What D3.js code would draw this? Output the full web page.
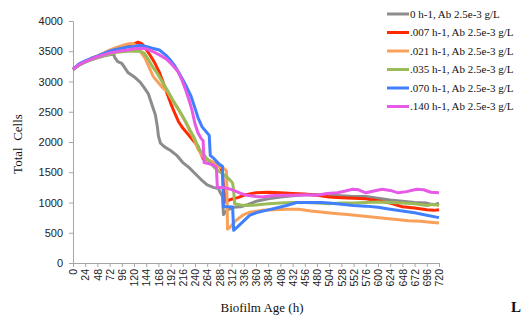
<!DOCTYPE html>
<html>
<head>
<meta charset="utf-8">
<script src="https://cdn.jsdelivr.net/npm/d3@7"></script>
<style>
body { margin: 0; background: #fff; }
.axis path, .axis line { stroke: #a6a6a6; }
.axis text { font-family: "Liberation Sans", Arial, sans-serif; fill: #222; }
.serif { font-family: "Liberation Serif", "Times New Roman", serif; fill: #111; }
</style>
</head>
<body>
<svg width="529" height="320"></svg>
<script>
// series labels / colours
var seriesNames = ["0 h-1, Ab 2.5e-3 g/L", ".007 h-1, Ab 2.5e-3 g/L", ".021 h-1, Ab 2.5e-3 g/L",
                   ".035 h-1, Ab 2.5e-3 g/L", ".070 h-1, Ab 2.5e-3 g/L", ".140 h-1, Ab 2.5e-3 g/L"];
var seriesColors = ["#8c8c8c", "#ff2a00", "#f9a05a", "#9bbb59", "#4080ff", "#e65ae6"];

var xTicks = d3.range(0, 721, 24);
var yTicks = d3.range(0, 4001, 500);

// [hour, total cells]
var dil0 = [[0,3200],[12,3270],[24,3320],[36,3360],[48,3390],[60,3420],[72,3440],[80,3450],[82,3400],[88,3330],[96,3300],[108,3150],[120,3080],[132,2990],[140,2900],[148,2800],[156,2600],[162,2450],[166,2250],[168,2100],[172,1980],[180,1920],[192,1860],[204,1780],[216,1660],[228,1580],[240,1480],[252,1380],[264,1290],[276,1250],[286,1230],[290,1160],[294,1100],[296,800],[304,880],[316,920],[330,930],[345,970],[360,1020],[384,1060],[408,1090],[432,1110],[456,1130],[480,1130],[504,1120],[528,1110],[552,1100],[576,1100],[600,1070],[624,1040],[648,1020],[672,1000],[696,990],[710,960],[720,990]];
var dil007 = [[0,3200],[12,3280],[24,3330],[36,3380],[48,3420],[60,3460],[72,3500],[84,3540],[96,3580],[108,3610],[120,3620],[128,3650],[136,3620],[144,3530],[152,3430],[160,3320],[170,3150],[178,2970],[186,2780],[194,2600],[200,2480],[208,2330],[216,2230],[226,2130],[236,2030],[246,1930],[256,1720],[266,1700],[276,1660],[288,1620],[294,1500],[296,1250],[300,1010],[310,1050],[324,1080],[340,1130],[360,1160],[384,1170],[408,1160],[432,1150],[456,1140],[480,1120],[504,1090],[528,1080],[552,1070],[576,1060],[600,1030],[624,990],[648,930],[672,910],[696,880],[710,870],[720,880]];
var dil021 = [[0,3200],[12,3280],[24,3330],[36,3380],[48,3420],[60,3470],[72,3520],[84,3560],[96,3590],[108,3620],[118,3630],[126,3580],[134,3480],[142,3380],[150,3230],[158,3080],[166,3000],[176,2900],[186,2830],[196,2680],[206,2560],[214,2440],[222,2320],[230,2180],[238,2050],[246,1880],[256,1750],[266,1700],[276,1660],[286,1590],[296,1570],[302,1520],[304,560],[310,600],[320,700],[334,790],[348,840],[372,870],[396,880],[420,890],[444,890],[468,860],[492,840],[516,820],[540,800],[564,780],[588,760],[612,740],[636,720],[660,700],[684,690],[708,670],[720,660]];
var dil035 = [[0,3200],[12,3270],[24,3320],[36,3360],[48,3400],[60,3430],[72,3450],[84,3480],[96,3490],[108,3500],[120,3500],[132,3500],[140,3470],[148,3370],[156,3250],[166,3130],[176,2990],[186,2850],[196,2700],[206,2560],[214,2450],[222,2330],[230,2200],[238,2080],[248,1880],[258,1780],[268,1680],[278,1580],[288,1510],[298,1450],[308,1380],[314,1320],[316,1200],[318,980],[330,960],[345,950],[360,960],[384,980],[408,990],[432,1000],[456,1000],[480,990],[504,980],[528,990],[552,990],[576,1000],[600,1010],[624,1000],[648,990],[672,980],[696,950],[708,970],[720,950]];
var dil070 = [[0,3200],[12,3290],[24,3340],[36,3380],[48,3420],[60,3460],[72,3500],[84,3530],[96,3550],[108,3570],[120,3580],[132,3600],[144,3580],[156,3550],[170,3520],[182,3440],[192,3350],[200,3260],[208,3150],[216,3030],[224,2900],[232,2760],[240,2560],[246,2400],[254,2250],[262,2170],[268,2110],[270,1780],[278,1720],[288,1630],[294,1600],[296,930],[306,930],[314,925],[316,540],[324,600],[334,680],[348,790],[364,840],[380,870],[400,910],[420,950],[440,1000],[464,1000],[488,1000],[504,990],[528,970],[552,950],[576,940],[600,920],[624,890],[648,860],[672,830],[696,790],[720,750]];
var dil140 = [[0,3200],[12,3280],[24,3330],[36,3370],[48,3410],[60,3440],[72,3470],[84,3490],[96,3510],[108,3520],[120,3540],[132,3550],[144,3540],[156,3500],[170,3440],[184,3370],[196,3270],[206,3170],[214,3030],[222,2850],[228,2700],[234,2530],[240,2300],[246,2150],[252,2060],[256,2020],[258,1660],[268,1640],[276,1620],[282,1580],[284,1250],[296,1250],[306,1230],[316,1200],[330,1150],[342,1120],[360,1100],[373,1090],[390,1110],[408,1120],[432,1120],[456,1130],[480,1120],[500,1150],[520,1160],[536,1190],[550,1220],[562,1210],[576,1160],[592,1190],[608,1220],[624,1200],[640,1160],[656,1180],[676,1220],[690,1210],[704,1170],[720,1160]];

var seriesData = [dil0, dil007, dil021, dil035, dil070, dil140];

var svg = d3.select("svg"),
    margin = {top: 21, right: 90, bottom: 57, left: 73},
    width = +svg.attr("width") - margin.left - margin.right,
    height = +svg.attr("height") - margin.top - margin.bottom;

var x = d3.scaleLinear().domain([0, 720]).range([0, width]);
var y = d3.scaleLinear().domain([0, 4000]).range([height, 0]);

var g = svg.append("g")
    .attr("transform", "translate(" + margin.left + "," + margin.top + ")");

// axes
g.append("g")
    .attr("class", "axis")
    .call(d3.axisLeft(y).tickValues(yTicks).tickFormat(d3.format("d")).tickSize(4).tickPadding(6))
    .selectAll("text").style("font-size", "11px");

var xAxis = g.append("g")
    .attr("class", "axis")
    .attr("transform", "translate(0," + height + ")")
    .call(d3.axisBottom(x).tickValues(xTicks).tickFormat(d3.format("d")).tickSize(4));

xAxis.selectAll("text")
    .style("font-size", "10.5px")
    .style("text-anchor", "end")
    .attr("transform", "rotate(-90)")
    .attr("x", -6)
    .attr("y", 0)
    .attr("dy", "0.35em");

// lines
var line = d3.line()
    .x(function(d) { return x(d[0]); })
    .y(function(d) { return y(d[1]); });

g.selectAll(".series")
  .data(seriesData)
  .enter().append("path")
    .attr("class", "series")
    .attr("fill", "none")
    .attr("stroke", function(d, i) { return seriesColors[i]; })
    .attr("stroke-width", 3)
    .attr("stroke-linejoin", "round")
    .attr("d", line);

// titles
svg.append("text")
    .attr("class", "serif")
    .attr("transform", "translate(22,144) rotate(-90)")
    .attr("text-anchor", "middle")
    .style("font-size", "13px")
    .style("white-space", "pre")
    .text("Total  Cells");

svg.append("text")
    .attr("class", "serif")
    .attr("x", 262)
    .attr("y", 312)
    .attr("text-anchor", "middle")
    .style("font-size", "13px")
    .text("Biofilm Age (h)");

svg.append("text")
    .attr("class", "serif")
    .attr("x", 511)
    .attr("y", 312)
    .style("font-size", "15px")
    .style("font-weight", "bold")
    .text("L");

// legend
var legend = svg.selectAll(".legend")
  .data(seriesNames)
  .enter().append("g")
    .attr("class", "legend")
    .attr("transform", function(d, i) { return "translate(387," + (14 + i * 18.5) + ")"; });

legend.append("line")
    .attr("x1", 0).attr("x2", 22)
    .attr("stroke", function(d, i) { return seriesColors[i]; })
    .attr("stroke-width", 3);

legend.append("text")
    .attr("class", "serif")
    .attr("x", 23)
    .attr("dy", "0.35em")
    .style("font-size", "11px")
    .text(function(d) { return d; });
</script>
</body>
</html>
